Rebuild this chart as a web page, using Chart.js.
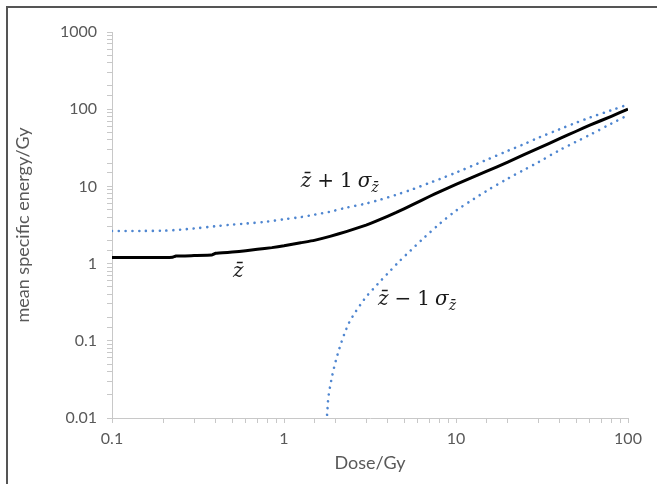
<!DOCTYPE html>
<html>
<head>
<meta charset="utf-8">
<script src="https://cdn.jsdelivr.net/npm/chart.js"></script>
<style>
  html, body { margin: 0; padding: 0; background: #fff; }
  #wrap { position: relative; width: 657px; height: 484px; overflow: hidden; }
  #frameTop { position: absolute; left: 6px; top: 6px; width: 651px; height: 2px; background: #555; }
  #frameLeft { position: absolute; left: 6px; top: 6px; width: 2px; height: 478px; background: #555; }
  canvas { position: absolute; left: 0; top: 0; }
</style>
</head>
<body>
<div id="wrap">
  <canvas id="chart" width="657" height="484"></canvas>
  <div id="frameTop"></div>
  <div id="frameLeft"></div>
</div>
<script>
// Datos (Dose/Gy -> energía específica media/Gy)
const doseMean = [0.1, 0.15, 0.2, 0.225, 0.235, 0.3, 0.38, 0.4, 0.5, 0.6, 0.7, 0.85, 1, 1.25, 1.5, 1.85, 2.3, 3, 3.6, 4.5, 5.6, 7, 8, 10, 15, 20, 30, 40, 50, 60, 80, 100];
const zMean    = [1.2, 1.2, 1.2, 1.21, 1.25, 1.27, 1.29, 1.36, 1.41, 1.47, 1.53, 1.61, 1.7, 1.86, 2.0, 2.25, 2.6, 3.15, 3.7, 4.6, 5.8, 7.4, 8.5, 10.6, 15.6, 20.7, 31, 41.5, 51.8, 62, 81, 100];

const doseUpper = [0.1, 0.15, 0.2, 0.25, 0.3, 0.4, 0.5, 0.6, 0.8, 1, 1.25, 1.5, 1.85, 2.3, 3, 3.6, 4.5, 5.6, 7, 8, 10, 15, 20, 25, 30, 40, 50, 60, 80, 100];
const zUpper    = [2.65, 2.65, 2.67, 2.75, 2.85, 3.05, 3.2, 3.3, 3.5, 3.75, 4.0, 4.3, 4.7, 5.3, 6.0, 6.7, 7.8, 9.2, 11.1, 12.4, 15.1, 22, 28.9, 35.5, 42.5, 55, 67, 78, 97, 115];

const doseLower = [1.78, 1.79, 1.8, 1.82, 1.85, 1.9, 1.95, 2.0, 2.1, 2.25, 2.4, 2.6, 2.8, 3.0, 3.3, 3.6, 4.0, 4.7, 5.4, 6.5, 8, 10, 12.6, 15, 20, 25, 30, 40, 50, 60, 80, 100];
const zLower    = [0.011, 0.013, 0.016, 0.02, 0.025, 0.034, 0.044, 0.055, 0.08, 0.125, 0.175, 0.235, 0.3, 0.37, 0.47, 0.58, 0.74, 1.08, 1.45, 2.15, 3.25, 4.85, 6.8, 8.7, 12.6, 16.5, 20.5, 29.5, 38, 46.5, 65, 84];

const xLimits = [0.1, 100];
const yLimits = [0.01, 1000];

const toPoints = (xs, ys) => xs.map((x, i) => ({ x: x, y: ys[i] }));

const textGray = '#595959';
const axisGray = '#c8c8c8';
const dotBlue = '#4f86d0';

// Etiquetas matemáticas sobre las curvas (ancladas en coordenadas de datos)
const labelsPlugin = {
  id: 'curveLabels',
  afterDatasetsDraw(chart) {
    const ctx = chart.ctx;
    const xs = chart.scales.x, ys = chart.scales.y;
    const it = 'italic 20px "DejaVu Serif"';
    const rg = '20px "DejaVu Serif"';
    const sub = 'italic 14px "DejaVu Serif"';

    function drawRuns(x, y, runs) {
      ctx.save();
      ctx.fillStyle = '#1a1a1a';
      ctx.textBaseline = 'alphabetic';
      ctx.textAlign = 'left';
      let cx = x;
      runs.forEach(r => {
        ctx.font = r.font;
        ctx.fillText(r.t, cx, y + (r.dy || 0));
        cx += ctx.measureText(r.t).width + (r.gap || 0);
      });
      ctx.restore();
    }

    drawRuns(xs.getPixelForValue(1.25), ys.getPixelForValue(9.9), [
      { t: 'z\u0304', font: it, gap: 6 }, { t: '+', font: rg, gap: 6 }, { t: '1', font: rg, gap: 5 },
      { t: 'σ', font: it }, { t: 'z\u0304', font: sub, dy: 5 }
    ]);
    drawRuns(xs.getPixelForValue(0.505), ys.getPixelForValue(0.68), [
      { t: 'z\u0304', font: it }
    ]);
    drawRuns(xs.getPixelForValue(3.52), ys.getPixelForValue(0.287), [
      { t: 'z\u0304', font: it, gap: 6 }, { t: '\u2212', font: rg, gap: 6 }, { t: '1', font: rg, gap: 5 },
      { t: 'σ', font: it }, { t: 'z\u0304', font: sub, dy: 5 }
    ]);
  }
};

function decadeLabel(v) {
  const l = Math.log10(v);
  if (Math.abs(l - Math.round(l)) > 1e-6) return '';
  return String(Number(Math.pow(10, Math.round(l)).toPrecision(1)));
}

const tickFont = { family: 'Lato', size: 16 };
const titleFont = { family: 'Lato', size: 18 };

new Chart(document.getElementById('chart'), {
  type: 'line',
  data: {
    datasets: [
      {
        label: 'z̄ + 1 σ',
        data: toPoints(doseUpper, zUpper),
        borderColor: dotBlue,
        borderWidth: 2.6,
        borderDash: [0.01, 6.8],
        borderCapStyle: 'round',
        pointRadius: 0,
        tension: 0.3
      },
      {
        label: 'z̄ − 1 σ',
        data: toPoints(doseLower, zLower),
        borderColor: dotBlue,
        borderWidth: 2.6,
        borderDash: [0.01, 6.8],
        borderCapStyle: 'round',
        pointRadius: 0,
        tension: 0.3
      },
      {
        label: 'z̄',
        data: toPoints(doseMean, zMean),
        borderColor: '#000',
        borderWidth: 3,
        pointRadius: 0,
        tension: 0.1
      }
    ]
  },
  options: {
    responsive: false,
    animation: false,
    layout: { padding: { left: 8, top: 32, right: 29, bottom: 6 } },
    plugins: { legend: { display: false }, tooltip: { enabled: false } },
    scales: {
      x: {
        type: 'logarithmic',
        min: xLimits[0], max: xLimits[1],
        grid: { display: true, drawOnChartArea: false, drawTicks: true, tickLength: 5, color: axisGray },
        border: { display: true, color: axisGray },
        ticks: { autoSkip: false, maxRotation: 0, padding: 6, color: textGray, font: tickFont, callback: decadeLabel },
        title: { display: true, text: 'Dose/Gy', color: textGray, font: titleFont, padding: { top: 4, bottom: 4 } },
        afterFit(scale) { scale.height = 60; }
      },
      y: {
        type: 'logarithmic',
        min: yLimits[0], max: yLimits[1],
        grid: { display: true, drawOnChartArea: false, drawTicks: true, tickLength: 5, color: axisGray },
        border: { display: true, color: axisGray },
        ticks: { autoSkip: false, padding: 10, color: textGray, font: tickFont, callback: decadeLabel },
        title: { display: true, text: 'mean specific energy/Gy', color: textGray, font: titleFont, padding: { top: 4, bottom: 4 } },
        afterFit(scale) { scale.width = 104; }
      }
    }
  },
  plugins: [labelsPlugin]
});
</script>
</body>
</html>
